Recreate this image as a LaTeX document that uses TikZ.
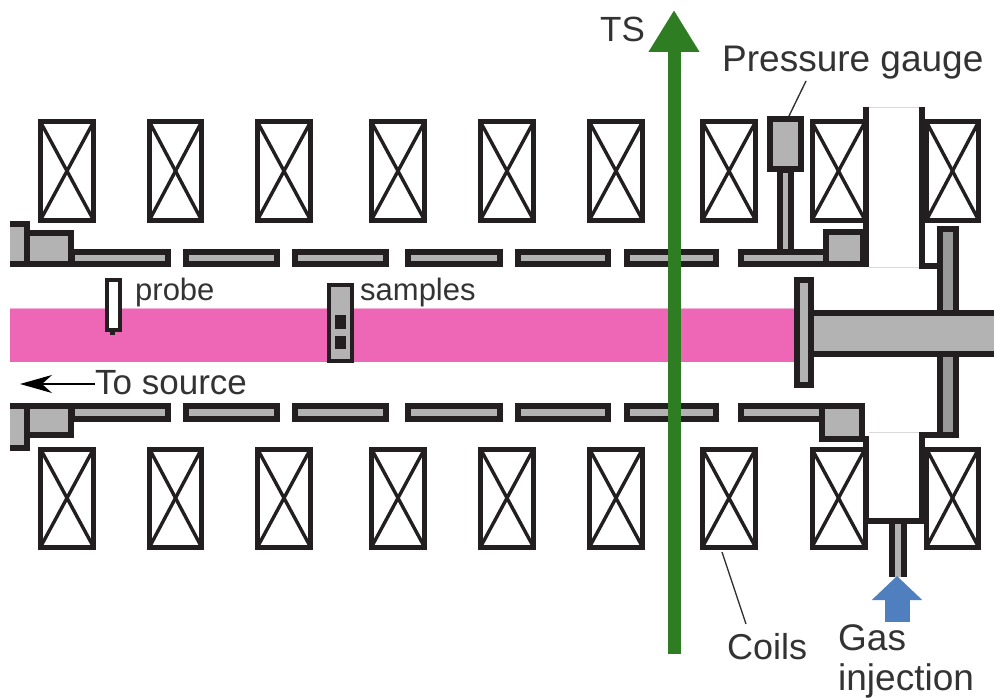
\documentclass[tikz,border=0pt]{standalone}
\usepackage{fontspec}
\setmainfont{Liberation Sans}
\usetikzlibrary{arrows.meta}
\definecolor{partgray}{HTML}{B3B3B3}
\definecolor{bargray}{HTML}{999999}
\definecolor{wallblack}{HTML}{231F20}
\definecolor{plasma}{HTML}{EE66B6}
\definecolor{beamgreen}{HTML}{2E7D23}
\definecolor{gasblue}{HTML}{4F7FBF}
\definecolor{labelgray}{HTML}{333333}
\tikzset{
	coil/.style={rectangle,draw=wallblack,fill=white,line width=5pt,inner sep=0pt,
		minimum width=#1,minimum height=98pt,
		path picture={
			\draw[wallblack,line width=3.4pt] (path picture bounding box.north west) -- (path picture bounding box.south east);
			\draw[wallblack,line width=3.4pt] (path picture bounding box.north east) -- (path picture bounding box.south west);
		}},
	part/.style={draw=wallblack,fill=partgray,line width=6pt,line join=miter},
	wall/.style={draw=wallblack,line width=6pt,line cap=butt},
	lbl/.style={anchor=base west,inner sep=0pt,text=labelgray},
	leader/.style={draw=labelgray,line width=1.4pt}
}
\begin{document}
\begin{tikzpicture}[x=1pt,y=-1pt]
	\useasboundingbox (0,0) rectangle (994,698);
	% plasma column
	\fill[plasma] (10,308) rectangle (796,362);
	\draw[plasma!50,line width=0.7pt] (10,308) -- (796,308);
	% coils
	\foreach \x/\w [count=\i] in {67/53,175.5/52,284/53,398/53,507/53,616/53,729/53,838.5/53,952.5/52} {
		\node [coil=\w] (upcoil\i) at (\x,171) {};
		\node [coil=\w] (lowcoil\i) at (\x,498) {};
	}
	% rails
	\foreach \a/\b in {72/168,186/277,295/386,408/500,518/608,627/716,741/826} {
		\draw[part] (\a,252) rectangle (\b,264);
		\draw[part] (\a,406) rectangle (\b,419);
	}
	% flanges left
	\begin{scope}
		\clip (10,200) rectangle (100,470);
		\draw[part] (5,224) rectangle (27,264);
		\draw[part] (27,233) rectangle (71,264);
		\draw[part] (5,406) rectangle (27,448);
		\draw[part] (27,406) rectangle (71,435);
	\end{scope}
	% pressure gauge
	\draw[part] (780,170) rectangle (791,252);
	\draw[part] (770,119) rectangle (801,169);
	% upper port
	\fill[white] (866,107) rectangle (922,266);
	\draw[part] (826,232) rectangle (863,264);
	\draw[wall] (866,107) -- (866,267);
	\draw[wall] (922,107) -- (922,266) -- (940,266);
	\draw[gray!30,line width=0.7pt] (869,107) -- (919,107);
	\draw[gray!30,line width=0.7pt] (869,267) -- (919,267);
	% lower port
	\draw[part] (822,406) rectangle (862,439);
	\fill[white] (866,432) rectangle (922,521);
	\draw[wall] (866,436) -- (866,521) -- (922,521) -- (922,435) -- (940,435);
	\draw[gray!30,line width=0.7pt] (869,432) -- (919,432);
	\fill[partgray] (892,524) rectangle (904,577);
	\draw[wall] (892,524) -- (892,577);
	\draw[wall] (904,524) -- (904,577);
	% sample holder, probe
	\draw[draw=wallblack,fill=white,line width=3.5pt] (107,280) rectangle (120,330);
	\fill[wallblack] (110,331) rectangle (115,335);
	\draw[draw=wallblack,fill=partgray,line width=3.5pt] (329,285) rectangle (352,361);
	\fill[wallblack] (335,315) rectangle (346,329);
	\fill[wallblack] (335,336) rectangle (346,349);
	% target
	\draw[part,fill=bargray] (940,229) rectangle (956,435);
	\draw[part] (808,313) rectangle (1000,354);
	\draw[part] (797,280) rectangle (811,385);
	% beams
	\coordinate (tsstart) at (674,654);
	\coordinate (tsend) at (674,10);
	\draw[-{Triangle[width=48pt,length=42pt]},beamgreen,line width=13pt] (tsstart) -- (tsend);
	\coordinate (gasstart) at (897,622);
	\coordinate (gasend) at (897,576);
	\draw[-{Triangle[width=49pt,length=24pt]},gasblue,line width=25pt] (gasstart) -- (gasend);
	% labels
	\node [lbl,font=\fontsize{35}{40}\selectfont] (ts) at (600,42) {TS};
	\node [lbl,font=\fontsize{37}{40}\selectfont] (pressure) at (722,72) {Pressure gauge};
	\node [lbl,font=\fontsize{31}{36}\selectfont] (probe) at (135,300) {probe};
	\node [lbl,font=\fontsize{31}{36}\selectfont] (samples) at (360,300) {samples};
	\node [lbl,font=\fontsize{35}{40}\selectfont] (source) at (95,394) {To source};
	\node [lbl,font=\fontsize{36}{40}\selectfont] (coils) at (727,659) {Coils};
	\node [lbl,font=\fontsize{37}{40}\selectfont] (gas) at (838,650) {Gas};
	\node [lbl,font=\fontsize{37}{40}\selectfont] (injection) at (838,690) {injection};
	% leaders
	\coordinate (gaugetop) at (789,116);
	\coordinate (gaugelabel) at (806,81);
	\draw[leader] (gaugetop) -- (gaugelabel);
	\coordinate (coilfoot) at (722,552);
	\coordinate (coilslabel) at (746,624);
	\draw[leader] (coilfoot) -- (coilslabel);
	\coordinate (sourcetip) at (20,384);
	\draw[-{Stealth[width=18pt,length=32pt,inset=10pt]},black,line width=1.5pt] (source.west |- sourcetip) -- (sourcetip);
\end{tikzpicture}
\end{document}
